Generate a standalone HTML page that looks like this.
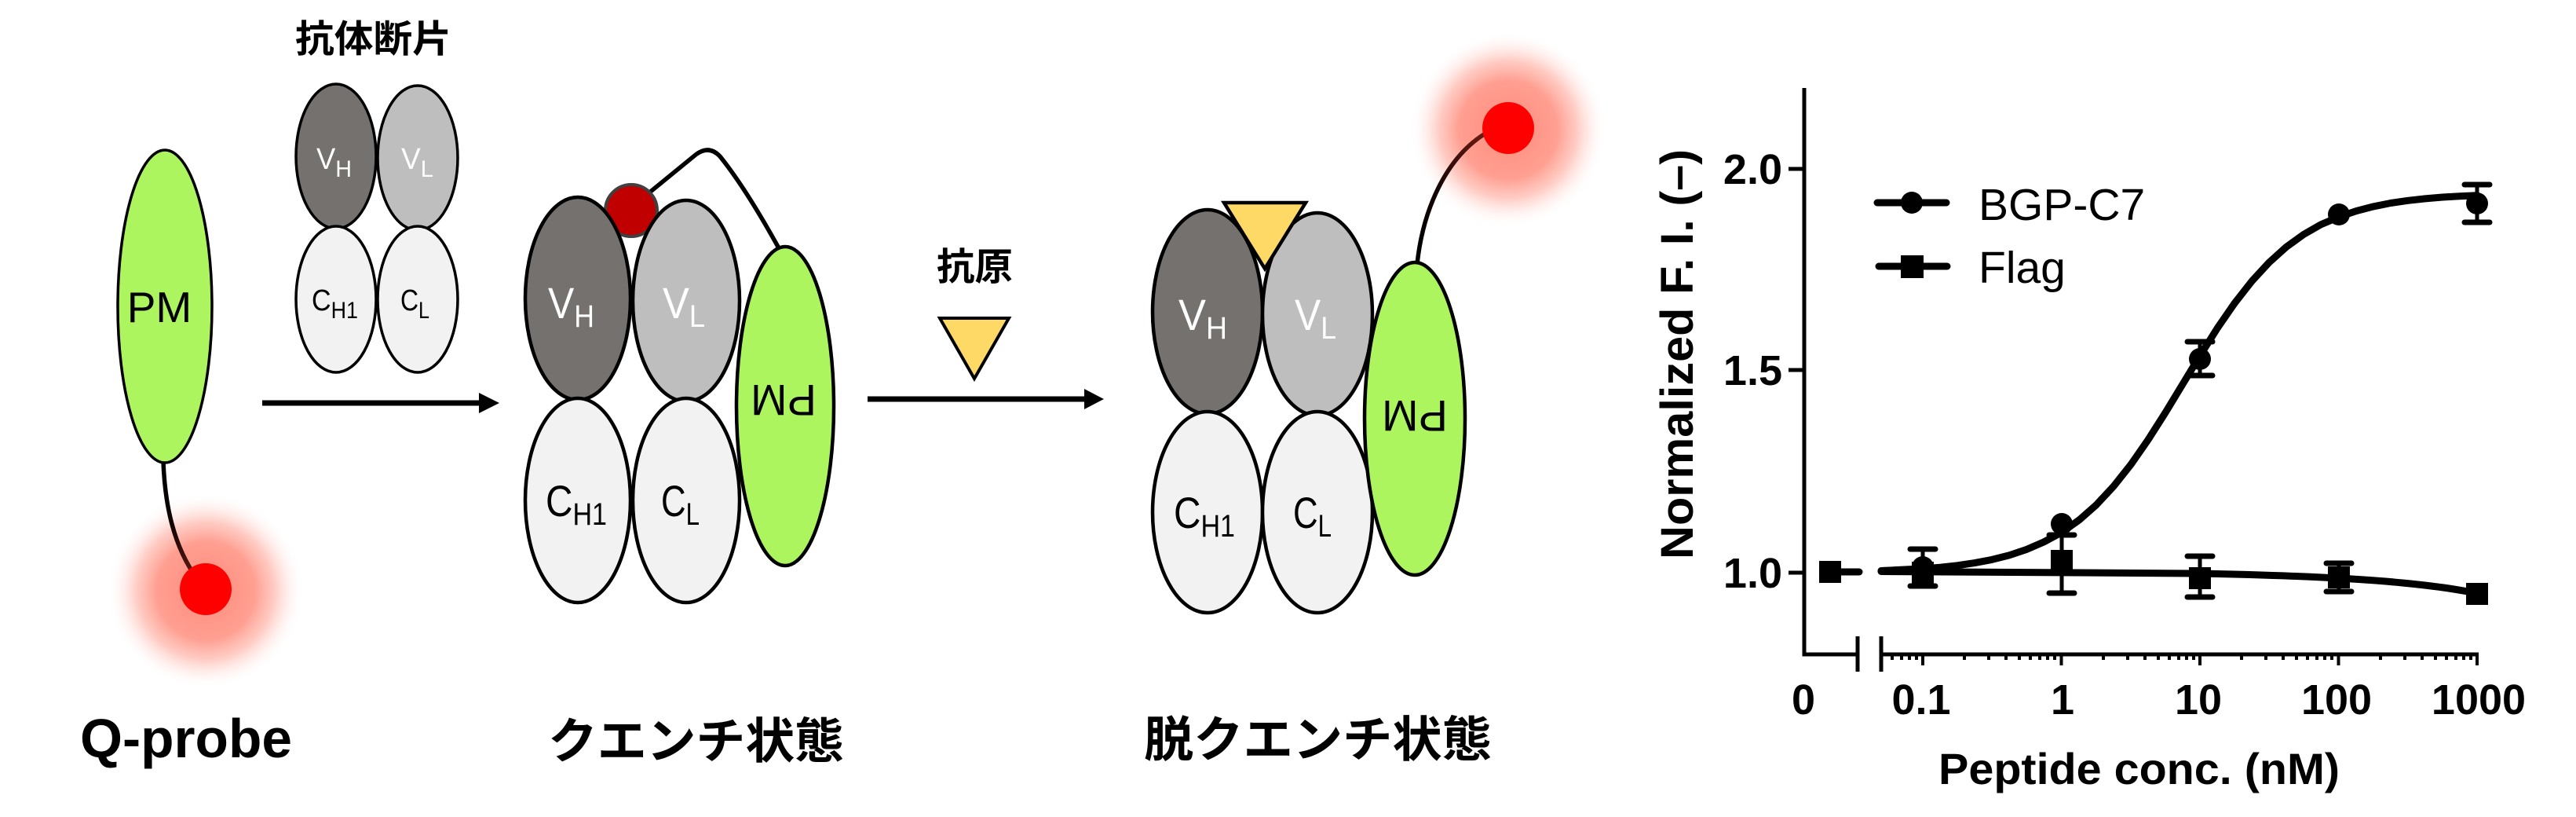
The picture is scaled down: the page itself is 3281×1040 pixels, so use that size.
<!DOCTYPE html>
<html>
<head>
<meta charset="utf-8">
<style>
  html, body { margin:0; padding:0; background:#ffffff; }
  body { width:3281px; height:1040px; overflow:hidden; }
  svg { display:block; }
  .lat { font-family: "Liberation Sans", Arial, sans-serif; }
  .jp { font-family: "Liberation Sans", "Noto Sans CJK JP", sans-serif; font-weight:bold; }
</style>
</head>
<body>
<svg width="3281" height="1040" viewBox="0 0 3281 1040" xmlns="http://www.w3.org/2000/svg">
  <defs>
    <radialGradient id="glow">
      <stop offset="0" stop-color="#ff8b7b" stop-opacity="1"/>
      <stop offset="0.5" stop-color="#ff9a8c" stop-opacity="0.95"/>
      <stop offset="0.7" stop-color="#ffa99c" stop-opacity="0.6"/>
      <stop offset="0.85" stop-color="#ffc8c0" stop-opacity="0.25"/>
      <stop offset="1" stop-color="#ffffff" stop-opacity="0"/>
    </radialGradient>
    <linearGradient id="lk1" gradientUnits="userSpaceOnUse" x1="208" y1="600" x2="255" y2="740">
      <stop offset="0" stop-color="#000"/>
      <stop offset="0.5" stop-color="#150505"/>
      <stop offset="1" stop-color="#6d1c12"/>
    </linearGradient>
    <linearGradient id="lk2" gradientUnits="userSpaceOnUse" x1="1805" y1="330" x2="1895" y2="170">
      <stop offset="0" stop-color="#000"/>
      <stop offset="0.5" stop-color="#150505"/>
      <stop offset="1" stop-color="#6d1c12"/>
    </linearGradient>
  </defs>

  <rect x="0" y="0" width="3281" height="1040" fill="#ffffff"/>

  <!-- ================= Q-probe ================= -->
  <circle cx="262" cy="752" r="125" fill="url(#glow)"/>
  <path d="M208,588 C210,640 220,695 252,738" fill="none" stroke="url(#lk1)" stroke-width="5.5"/>
  <ellipse cx="210" cy="390" rx="60" ry="199" fill="#adf55e" stroke="#000" stroke-width="3.5"/>
  <text class="lat" x="203" y="410" font-size="55" text-anchor="middle" fill="#000">PM</text>
  <circle cx="262" cy="750" r="33" fill="#ff0000"/>
  <text class="lat" x="102" y="964" font-size="70" font-weight="bold" textLength="270" lengthAdjust="spacingAndGlyphs" fill="#000">Q-probe</text>

  <!-- ================= antibody fragment (small) ================= -->
  <text class="jp" x="376" y="66" font-size="48" textLength="199" lengthAdjust="spacingAndGlyphs" fill="#000">抗体断片</text>
  <ellipse cx="428" cy="199" rx="51" ry="92" fill="#75716f" stroke="#000" stroke-width="3.5"/>
  <ellipse cx="532" cy="201" rx="51" ry="92" fill="#bebebe" stroke="#000" stroke-width="3.5"/>
  <ellipse cx="428" cy="381" rx="51" ry="93" fill="#f2f2f2" stroke="#000" stroke-width="3.5"/>
  <ellipse cx="532" cy="381" rx="51" ry="93" fill="#f2f2f2" stroke="#000" stroke-width="3.5"/>
  <text class="lat" x="403" y="215" font-size="38" fill="#fff" textLength="45" lengthAdjust="spacingAndGlyphs">V<tspan font-size="30" dy="10">H</tspan></text>
  <text class="lat" x="511" y="215" font-size="38" fill="#fff" textLength="41" lengthAdjust="spacingAndGlyphs">V<tspan font-size="30" dy="10">L</tspan></text>
  <text class="lat" x="397" y="395" font-size="38" fill="#000" textLength="59" lengthAdjust="spacingAndGlyphs">C<tspan font-size="30" dy="10">H1</tspan></text>
  <text class="lat" x="510" y="395" font-size="38" fill="#000" textLength="37" lengthAdjust="spacingAndGlyphs">C<tspan font-size="30" dy="10">L</tspan></text>

  <!-- arrow 1 -->
  <line x1="334" y1="513" x2="615" y2="513" stroke="#000" stroke-width="7"/>
  <polygon points="610,500 636,513 610,526" fill="#000"/>

  <!-- ================= Quench state ================= -->
  <path d="M826,246 L886,197 Q903,184 917,199 Q950,240 992,316" fill="none" stroke="#000" stroke-width="5.5"/>
  <circle cx="804" cy="268" r="33" fill="#c00000" stroke="#404040" stroke-width="4"/>
  <ellipse cx="736" cy="380" rx="67" ry="129" fill="#75716f" stroke="#000" stroke-width="4.5"/>
  <ellipse cx="874" cy="383" rx="68" ry="128" fill="#bebebe" stroke="#000" stroke-width="4.5"/>
  <ellipse cx="736" cy="637" rx="67" ry="130" fill="#f2f2f2" stroke="#000" stroke-width="4.5"/>
  <ellipse cx="874" cy="637" rx="68" ry="130" fill="#f2f2f2" stroke="#000" stroke-width="4.5"/>
  <ellipse cx="1000" cy="517" rx="62" ry="203" fill="#adf55e" stroke="#000" stroke-width="4.5"/>
  <text class="lat" x="698" y="405" font-size="56" fill="#fff" textLength="59" lengthAdjust="spacingAndGlyphs">V<tspan font-size="40" dy="11">H</tspan></text>
  <text class="lat" x="844" y="405" font-size="56" fill="#fff" textLength="54" lengthAdjust="spacingAndGlyphs">V<tspan font-size="40" dy="11">L</tspan></text>
  <text class="lat" x="695" y="657" font-size="56" fill="#000" textLength="78" lengthAdjust="spacingAndGlyphs">C<tspan font-size="40" dy="11">H1</tspan></text>
  <text class="lat" x="842" y="657" font-size="56" fill="#000" textLength="49" lengthAdjust="spacingAndGlyphs">C<tspan font-size="40" dy="11">L</tspan></text>
  <text class="lat" x="998" y="532" font-size="56" text-anchor="middle" fill="#000" transform="rotate(180 998 511)">PM</text>
  <text class="jp" x="698" y="965" font-size="62" textLength="377" lengthAdjust="spacingAndGlyphs" fill="#000">クエンチ状態</text>

  <!-- ================= antigen + arrow 2 ================= -->
  <text class="jp" x="1193" y="356" font-size="48" textLength="97" lengthAdjust="spacingAndGlyphs" fill="#000">抗原</text>
  <polygon points="1197,405 1285,405 1241,482" fill="#ffd966" stroke="#000" stroke-width="4" stroke-linejoin="miter"/>
  <line x1="1105" y1="508" x2="1386" y2="508" stroke="#000" stroke-width="7"/>
  <polygon points="1381,495 1406,508 1381,521" fill="#000"/>

  <!-- ================= De-quench state ================= -->
  <circle cx="1921" cy="165" r="125" fill="url(#glow)"/>
  <path d="M1805,336 C1812,270 1840,200 1895,168" fill="none" stroke="url(#lk2)" stroke-width="5.5"/>
  <circle cx="1921" cy="163" r="33" fill="#ff0000"/>
  <ellipse cx="1538" cy="397" rx="70" ry="130" fill="#75716f" stroke="#000" stroke-width="4.5"/>
  <ellipse cx="1678" cy="400" rx="70" ry="129" fill="#bebebe" stroke="#000" stroke-width="4.5"/>
  <ellipse cx="1538" cy="652" rx="70" ry="128" fill="#f2f2f2" stroke="#000" stroke-width="4.5"/>
  <ellipse cx="1678" cy="652" rx="70" ry="128" fill="#f2f2f2" stroke="#000" stroke-width="4.5"/>
  <ellipse cx="1802" cy="533" rx="64" ry="199" fill="#adf55e" stroke="#000" stroke-width="4.5"/>
  <polygon points="1559,258 1663,258 1611,342" fill="#ffd966" stroke="#000" stroke-width="4.5"/>
  <text class="lat" x="1501" y="420" font-size="56" fill="#fff" textLength="62" lengthAdjust="spacingAndGlyphs">V<tspan font-size="40" dy="11">H</tspan></text>
  <text class="lat" x="1649" y="420" font-size="56" fill="#fff" textLength="53" lengthAdjust="spacingAndGlyphs">V<tspan font-size="40" dy="11">L</tspan></text>
  <text class="lat" x="1495" y="672" font-size="56" fill="#000" textLength="78" lengthAdjust="spacingAndGlyphs">C<tspan font-size="40" dy="11">H1</tspan></text>
  <text class="lat" x="1647" y="672" font-size="56" fill="#000" textLength="49" lengthAdjust="spacingAndGlyphs">C<tspan font-size="40" dy="11">L</tspan></text>
  <text class="lat" x="1802" y="552" font-size="56" text-anchor="middle" fill="#000" transform="rotate(180 1802 531)">PM</text>
  <text class="jp" x="1457" y="963" font-size="62" textLength="443" lengthAdjust="spacingAndGlyphs" fill="#000">脱クエンチ状態</text>

  <!-- ================= Chart ================= -->
  <!-- axes -->
  <g stroke="#000" stroke-width="5" fill="none">
    <polyline points="2298,112 2298,833 2366,833"/>
    <line x1="2366" y1="810" x2="2366" y2="855"/>
    <line x1="2396" y1="810" x2="2396" y2="855"/>
    <line x1="2396" y1="833" x2="3157" y2="833"/>
    <line x1="2278" y1="215" x2="2298" y2="215"/>
    <line x1="2278" y1="471" x2="2298" y2="471"/>
    <line x1="2278" y1="729" x2="2298" y2="729"/>
  </g>
  <!-- x ticks -->
  <path stroke="#000" stroke-width="4" fill="none" d="
    M2449,833v14 M2625.5,833v14 M2802,833v14 M2978.5,833v14 M3155,833v14
    M2410,833v7 M2422,833v7 M2432,833v7 M2441,833v7
    M2502,833v7 M2533,833v7 M2555,833v7 M2572,833v7 M2586,833v7 M2598,833v7 M2608,833v7 M2617,833v7
    M2679,833v7 M2710,833v7 M2732,833v7 M2749,833v7 M2763,833v7 M2775,833v7 M2785,833v7 M2794,833v7
    M2855,833v7 M2886,833v7 M2908,833v7 M2925,833v7 M2939,833v7 M2951,833v7 M2961,833v7 M2970,833v7
    M3032,833v7 M3063,833v7 M3085,833v7 M3102,833v7 M3116,833v7 M3128,833v7 M3138,833v7 M3147,833v7"/>

  <!-- y tick labels -->
  <g class="lat" font-size="54" font-weight="bold" text-anchor="end" fill="#000">
    <text x="2270" y="234">2.0</text>
    <text x="2270" y="490">1.5</text>
    <text x="2270" y="748">1.0</text>
  </g>
  <!-- x tick labels -->
  <g class="lat" font-size="54" font-weight="bold" text-anchor="middle" fill="#000">
    <text x="2297" y="909">0</text>
    <text x="2447" y="909">0.1</text>
    <text x="2627" y="909">1</text>
    <text x="2800" y="909">10</text>
    <text x="2976" y="909">100</text>
    <text x="3157" y="909">1000</text>
  </g>
  <text class="lat" x="2469" y="998" font-size="56" font-weight="bold" textLength="511" lengthAdjust="spacingAndGlyphs" fill="#000">Peptide conc. (nM)</text>
  <text class="lat" font-size="58" font-weight="bold" text-anchor="middle" fill="#000" transform="translate(2156,451) rotate(-90)" textLength="522" lengthAdjust="spacingAndGlyphs">Normalized F. I. (–)</text>

  <!-- curves -->
  <polyline fill="none" stroke="#000" stroke-width="9" stroke-linecap="round" stroke-linejoin="round"
    points="2396,726.5 2449,723.9 2471,722.2 2493,719.8 2515,716.6 2537,712.4 2559,706.9 2581,699.5 2603,690.0 2626,677.7 2648,662.1 2670,642.7 2692,619.1 2714,591.4 2736,559.8 2758,525.3 2780,489.1 2802,452.9 2824,418.1 2846,386.2 2868,358.1 2890,334.2 2912,314.4 2934,298.5 2956,285.9 2979,276.1 3001,268.6 3023,262.9 3045,258.5 3067,255.3 3089,252.9 3111,251.0 3133,249.7 3155,248.7"/>
  <path fill="none" stroke="#000" stroke-width="9" stroke-linecap="round"
    d="M2396,727.5 L2802,730 C2900,732 3000,736 3060,742 S3130,751 3155,755"/>
  <line x1="2331" y1="728" x2="2368" y2="728" stroke="#000" stroke-width="9" stroke-linecap="round"/>

  <!-- error bars -->
  <g stroke="#000" stroke-linecap="round" fill="none">
    <g stroke-width="5">
      <line x1="2449" y1="699" x2="2449" y2="746"/>
      <line x1="2802" y1="435" x2="2802" y2="478"/>
      <line x1="3155" y1="235" x2="3155" y2="283"/>
      <line x1="2626" y1="681" x2="2626" y2="755"/>
      <line x1="2802" y1="708" x2="2802" y2="760"/>
      <line x1="2979" y1="717" x2="2979" y2="753"/>
    </g>
    <g stroke-width="7">
      <line x1="2433" y1="699" x2="2465" y2="699"/>
      <line x1="2433" y1="746" x2="2465" y2="746"/>
      <line x1="2786" y1="435" x2="2818" y2="435"/>
      <line x1="2786" y1="478" x2="2818" y2="478"/>
      <line x1="3139" y1="235" x2="3171" y2="235"/>
      <line x1="3139" y1="283" x2="3171" y2="283"/>
      <line x1="2610" y1="681" x2="2642" y2="681"/>
      <line x1="2610" y1="755" x2="2642" y2="755"/>
      <line x1="2786" y1="708" x2="2818" y2="708"/>
      <line x1="2786" y1="760" x2="2818" y2="760"/>
      <line x1="2963" y1="717" x2="2995" y2="717"/>
      <line x1="2963" y1="753" x2="2995" y2="753"/>
    </g>
  </g>

  <!-- markers -->
  <g fill="#000">
    <circle cx="2449" cy="722" r="14"/>
    <circle cx="2626" cy="667" r="14"/>
    <circle cx="2802" cy="457" r="14"/>
    <circle cx="2979" cy="273" r="14"/>
    <circle cx="3155" cy="259" r="14"/>
    <rect x="2317" y="714" width="28" height="28"/>
    <rect x="2435" y="715" width="28" height="28"/>
    <rect x="2612" y="700" width="28" height="28"/>
    <rect x="2788" y="722" width="28" height="28"/>
    <rect x="2965" y="721" width="28" height="28"/>
    <rect x="3141" y="742" width="28" height="28"/>
  </g>

  <!-- legend -->
  <line x1="2391" y1="258" x2="2479" y2="258" stroke="#000" stroke-width="9" stroke-linecap="round"/>
  <circle cx="2435" cy="258" r="14" fill="#000"/>
  <line x1="2393" y1="339" x2="2480" y2="339" stroke="#000" stroke-width="9" stroke-linecap="round"/>
  <rect x="2421" y="325" width="29" height="29" fill="#000"/>
  <text class="lat" x="2520" y="280" font-size="57" fill="#000">BGP-C7</text>
  <text class="lat" x="2520" y="360" font-size="57" fill="#000">Flag</text>
</svg>
</body>
</html>
